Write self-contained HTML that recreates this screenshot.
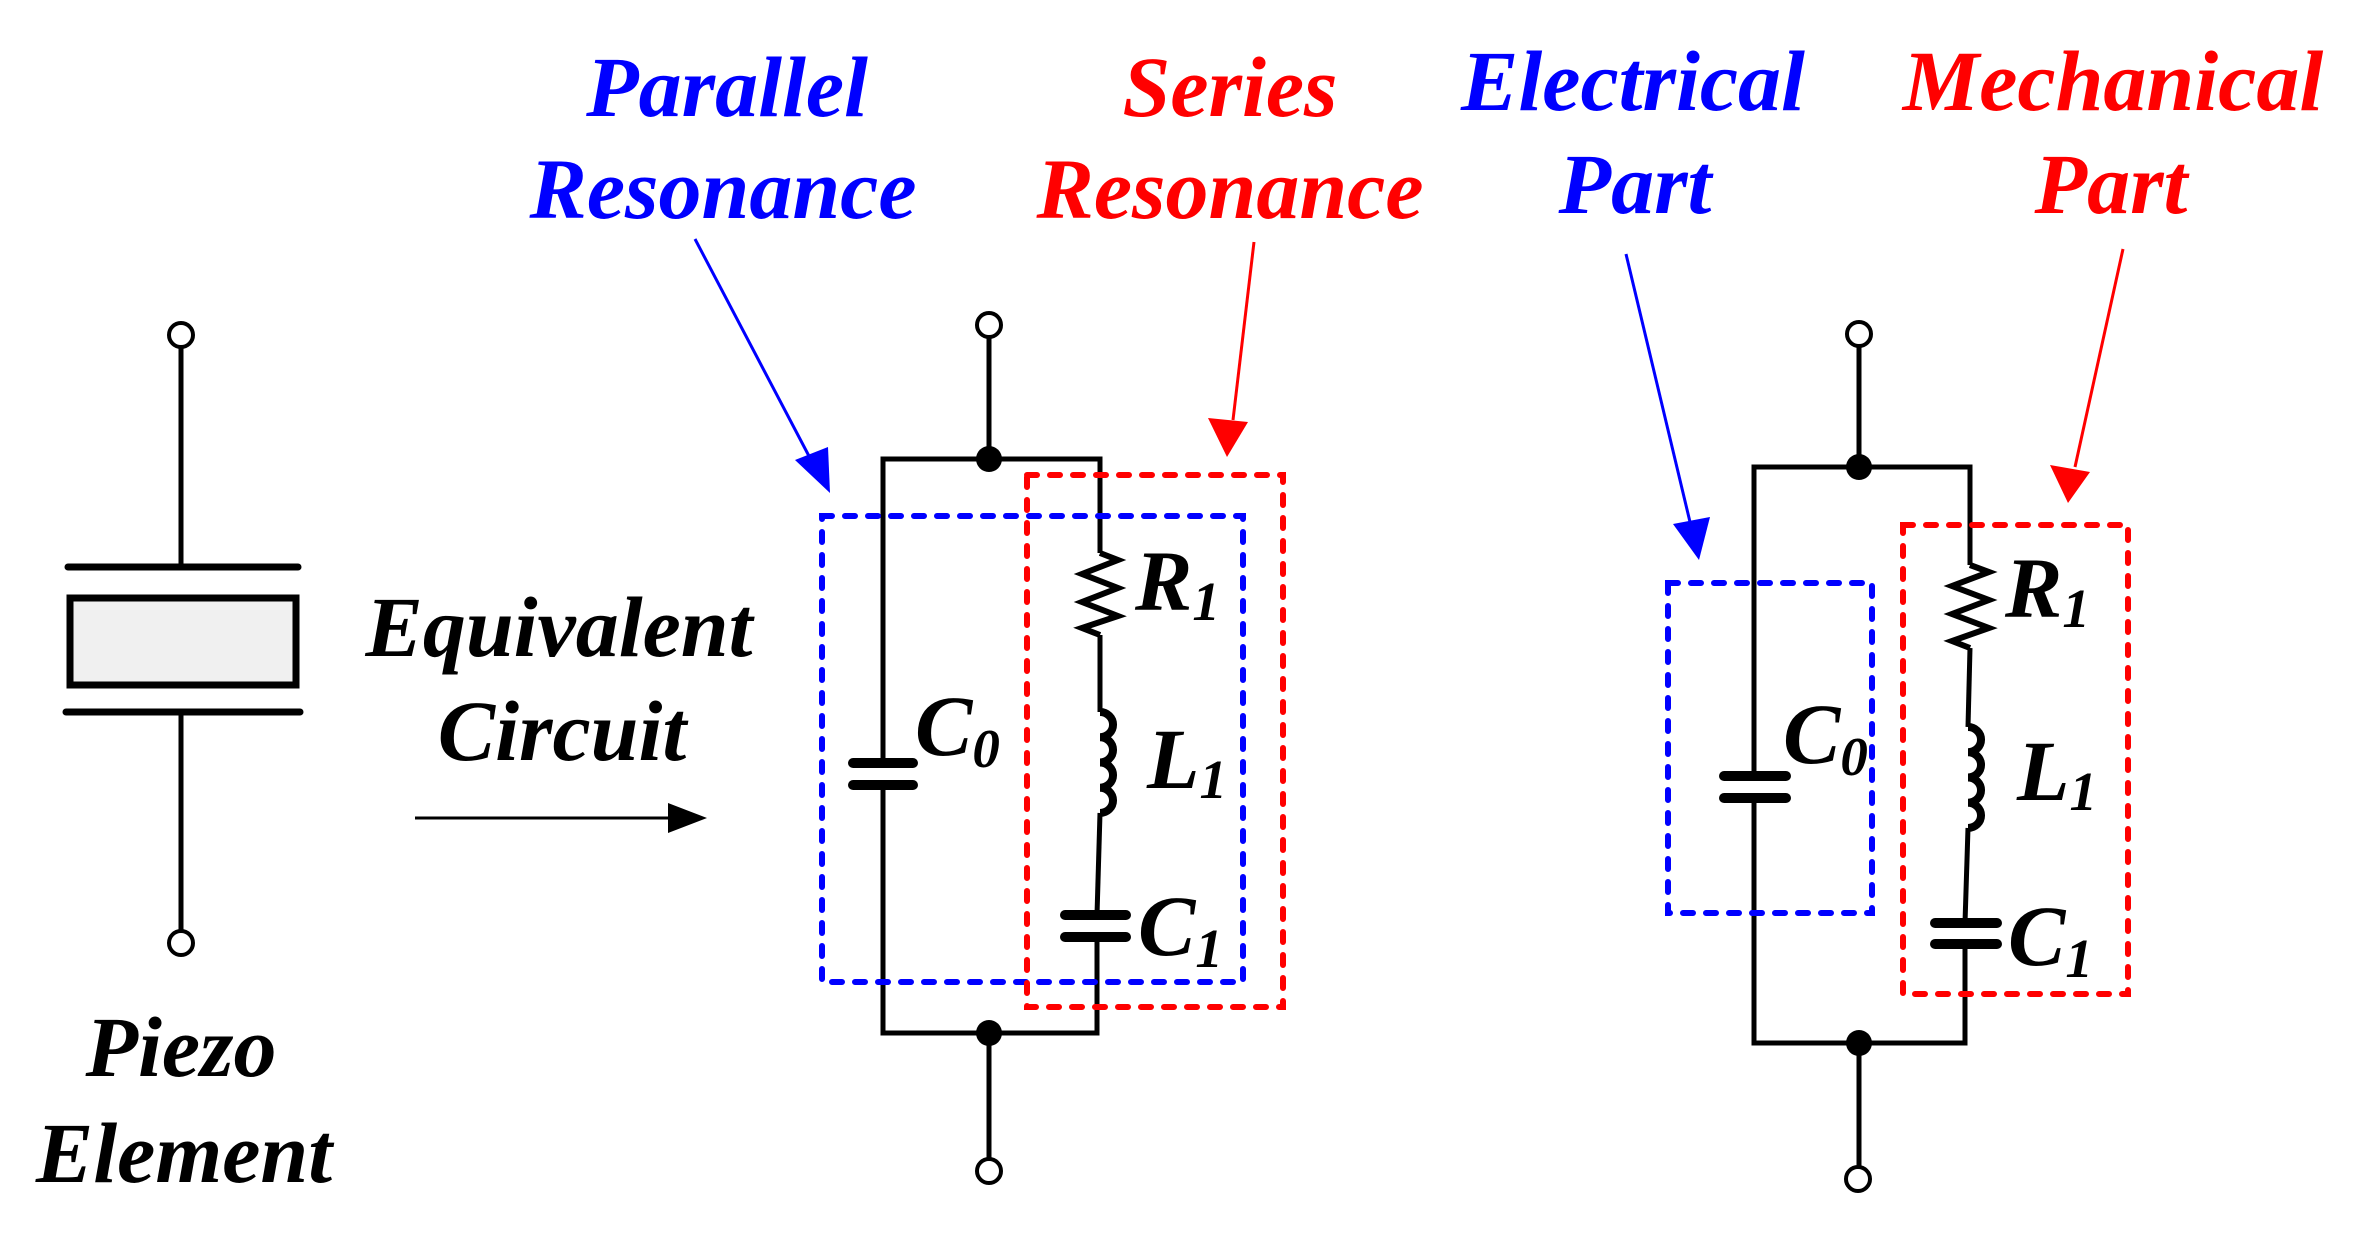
<!DOCTYPE html>
<html><head><meta charset="utf-8"><style>
html,body{margin:0;padding:0;background:#fff;}
svg{display:block;}
text{font-family:"Liberation Serif",serif;font-weight:bold;font-style:italic;}
</style></head><body>
<svg width="2357" height="1244" viewBox="0 0 2357 1244" xmlns="http://www.w3.org/2000/svg">

<!-- Headers -->
<g font-size="86" text-anchor="middle">
<text x="727" y="116" fill="#0000ff">Parallel</text>
<text x="723" y="218" fill="#0000ff">Resonance</text>
<text x="1230" y="116" fill="#ff0000">Series</text>
<text x="1230" y="218" fill="#ff0000">Resonance</text>
<text x="1633" y="110" fill="#0000ff">Electrical</text>
<text x="1635" y="213" fill="#0000ff">Part</text>
<text x="2113" y="110" fill="#ff0000">Mechanical</text>
<text x="2111" y="213" fill="#ff0000">Part</text>
<text x="559" y="656" fill="#000">Equivalent</text>
<text x="562" y="760" fill="#000">Circuit</text>
<text x="181" y="1076" fill="#000">Piezo</text>
<text x="184" y="1182" fill="#000">Element</text>
</g>

<!-- Piezo element -->
<g stroke="#000" stroke-width="5" fill="none">
<line x1="181" y1="348" x2="181" y2="568"/>
<line x1="181" y1="712" x2="181" y2="931"/>
<line x1="68" y1="567" x2="298" y2="567" stroke-width="7" stroke-linecap="round"/>
<line x1="66" y1="712" x2="300" y2="712" stroke-width="7" stroke-linecap="round"/>
<rect x="70" y="598" width="226" height="87" fill="#f0f0f0" stroke-width="7"/>
<circle cx="181" cy="335" r="12" fill="#fff" stroke-width="4"/>
<circle cx="181" cy="943" r="12" fill="#fff" stroke-width="4"/>
</g>

<!-- Equivalent arrow -->
<line x1="415" y1="818" x2="680" y2="818" stroke="#000" stroke-width="3"/>
<path d="M668,803 L707,818 L668,833 z" fill="#000"/>

<!-- Circuit 1 -->
<g stroke="#000" stroke-width="5" fill="none">
<line x1="989" y1="337" x2="989" y2="459"/>
<line x1="989" y1="1033" x2="989" y2="1159"/>
<polyline points="1100,553 1100,459 883,459 883,763"/>
<polyline points="883,785 883,1033 1097,1033 1097,937"/>
<line x1="1100" y1="635" x2="1100" y2="712"/>
<line x1="1100" y1="813" x2="1097" y2="915"/>
<polyline points="1100,553 1118,560 1082,574 1118,588 1082,602 1118,616 1082,628 1100,635" stroke-width="6"/>
<path d="M1100,712 a13,12.6 0 0 1 0,25.25 a13,12.6 0 0 1 0,25.25 a13,12.6 0 0 1 0,25.25 a13,12.6 0 0 1 0,25.25" stroke-width="8"/>
<line x1="853" y1="763" x2="913" y2="763" stroke-width="10" stroke-linecap="round"/>
<line x1="853" y1="785" x2="913" y2="785" stroke-width="10" stroke-linecap="round"/>
<line x1="1065" y1="915" x2="1126" y2="915" stroke-width="10" stroke-linecap="round"/>
<line x1="1065" y1="937" x2="1126" y2="937" stroke-width="10" stroke-linecap="round"/>
<circle cx="989" cy="325" r="12" fill="#fff" stroke-width="4"/>
<circle cx="989" cy="1171" r="12" fill="#fff" stroke-width="4"/>
</g>
<circle cx="989" cy="459" r="13" fill="#000"/>
<circle cx="989" cy="1033" r="13" fill="#000"/>
<g fill="#000">
<text x="915" y="755" font-size="86">C<tspan font-size="55" dy="12">0</tspan></text>
<text x="1135" y="610" font-size="86">R<tspan font-size="55" dy="10">1</tspan></text>
<text x="1147" y="788" font-size="86">L<tspan font-size="55" dy="10">1</tspan></text>
<text x="1138" y="955" font-size="86">C<tspan font-size="55" dy="12">1</tspan></text>
</g>
<rect x="822" y="516" width="421" height="466" fill="none" stroke="#0000ff" stroke-width="6" stroke-dasharray="10 13" stroke-linecap="round"/>
<rect x="1027" y="475" width="256" height="532" fill="none" stroke="#ff0000" stroke-width="6" stroke-dasharray="10 13" stroke-linecap="round"/>
<line x1="695" y1="239" x2="810" y2="458" stroke="#0000ff" stroke-width="3"/>
<path d="M830,493 L795,460 L828,447 z" fill="#0000ff"/>
<line x1="1254" y1="242" x2="1233" y2="420" stroke="#ff0000" stroke-width="3"/>
<path d="M1227,457 L1208,418 L1248,422 z" fill="#ff0000"/>

<!-- Circuit 2 -->
<g stroke="#000" stroke-width="5" fill="none">
<line x1="1859" y1="346" x2="1859" y2="467"/>
<line x1="1859" y1="1043" x2="1859" y2="1166"/>
<polyline points="1970,565 1970,467 1754,467 1754,776"/>
<polyline points="1754,798 1754,1043 1965,1043 1965,944"/>
<line x1="1970" y1="648" x2="1968" y2="727"/>
<line x1="1968" y1="828" x2="1965" y2="923"/>
<polyline points="1970,565 1989,572 1952,586 1989,600 1952,614 1989,628 1952,641 1970,648" stroke-width="6"/>
<path d="M1968,727 a13,12.6 0 0 1 0,25.25 a13,12.6 0 0 1 0,25.25 a13,12.6 0 0 1 0,25.25 a13,12.6 0 0 1 0,25.25" stroke-width="8"/>
<line x1="1724" y1="776" x2="1786" y2="776" stroke-width="10" stroke-linecap="round"/>
<line x1="1724" y1="798" x2="1786" y2="798" stroke-width="10" stroke-linecap="round"/>
<line x1="1935" y1="923" x2="1997" y2="923" stroke-width="10" stroke-linecap="round"/>
<line x1="1935" y1="944" x2="1997" y2="944" stroke-width="10" stroke-linecap="round"/>
<circle cx="1859" cy="334" r="12" fill="#fff" stroke-width="4"/>
<circle cx="1858" cy="1179" r="12" fill="#fff" stroke-width="4"/>
</g>
<circle cx="1859" cy="467" r="13" fill="#000"/>
<circle cx="1859" cy="1043" r="13" fill="#000"/>
<g fill="#000">
<text x="1783" y="763" font-size="86">C<tspan font-size="55" dy="12">0</tspan></text>
<text x="2005" y="617" font-size="86">R<tspan font-size="55" dy="10">1</tspan></text>
<text x="2017" y="800" font-size="86">L<tspan font-size="55" dy="10">1</tspan></text>
<text x="2008" y="965" font-size="86">C<tspan font-size="55" dy="12">1</tspan></text>
</g>
<rect x="1668" y="583" width="204" height="330" fill="none" stroke="#0000ff" stroke-width="6" stroke-dasharray="10 13" stroke-linecap="round"/>
<rect x="1903" y="525" width="225" height="469" fill="none" stroke="#ff0000" stroke-width="6" stroke-dasharray="10 13" stroke-linecap="round"/>
<line x1="1626" y1="254" x2="1690" y2="522" stroke="#0000ff" stroke-width="3"/>
<path d="M1699,560 L1673,524 L1710,517 z" fill="#0000ff"/>
<line x1="2123" y1="249" x2="2075" y2="467" stroke="#ff0000" stroke-width="3"/>
<path d="M2068,503 L2050,465 L2090,472 z" fill="#ff0000"/>
</svg>
</body></html>
